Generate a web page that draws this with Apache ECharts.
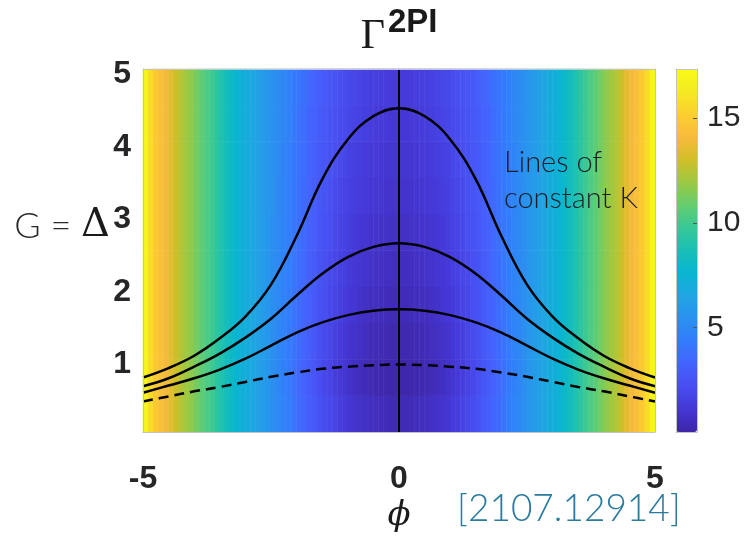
<!DOCTYPE html>
<html>
<head>
<meta charset="utf-8">
<script src="https://cdn.jsdelivr.net/npm/echarts@6/dist/echarts.min.js"></script>
<style>
  html, body { margin: 0; padding: 0; background: #ffffff; }
  #chart { width: 748px; height: 538px; }
</style>
</head>
<body>
<div id="chart"></div>
<script>
// Cell centres of the Gamma^2PI map: phi (columns) and Delta (rows)
const phiCells = [
  '-4.95','-4.85','-4.75','-4.65','-4.55','-4.45','-4.35','-4.25','-4.15','-4.05',
  '-3.95','-3.85','-3.75','-3.65','-3.55','-3.45','-3.35','-3.25','-3.15','-3.05',
  '-2.95','-2.85','-2.75','-2.65','-2.55','-2.45','-2.35','-2.25','-2.15','-2.05',
  '-1.95','-1.85','-1.75','-1.65','-1.55','-1.45','-1.35','-1.25','-1.15','-1.05',
  '-0.95','-0.85','-0.75','-0.65','-0.55','-0.45','-0.35','-0.25','-0.15','-0.05',
  '0.05','0.15','0.25','0.35','0.45','0.55','0.65','0.75','0.85','0.95',
  '1.05','1.15','1.25','1.35','1.45','1.55','1.65','1.75','1.85','1.95',
  '2.05','2.15','2.25','2.35','2.45','2.55','2.65','2.75','2.85','2.95',
  '3.05','3.15','3.25','3.35','3.45','3.55','3.65','3.75','3.85','3.95',
  '4.05','4.15','4.25','4.35','4.45','4.55','4.65','4.75','4.85','4.95'];
const deltaCells = ['0.32','0.82','1.32','1.82','2.32','2.82','3.32','3.82','4.32','4.82'];

// Gamma^2PI for |phi| > 2.5, the same at every Delta
const gammaOuterLeft  = [16.9,15.7,14.9,14.4,14.0,13.5,12.9,12.4,12.0,11.6,11.2,10.7,10.3,9.9,9.4,8.9,8.4,7.9,7.5,7.2,6.9,6.6,6.3,6.0,5.7];
const gammaOuterRight = [5.7,6.0,6.3,6.6,6.9,7.2,7.5,7.9,8.4,8.9,9.4,9.9,10.3,10.7,11.2,11.6,12.0,12.4,12.9,13.5,14.0,14.4,14.9,15.7,16.9];

// Gamma^2PI for |phi| < 2.5, one row per Delta cell (bottom to top)
const gammaD032 = [5.3,5.0,4.7,4.4,4.0,3.6,3.4,3.0,2.8,2.4,2.1,1.9,1.7,1.4,1.3,1.0,0.9,0.8,0.7,0.6,0.5,0.45,0.4,0.35,0.35,
                   0.35,0.35,0.4,0.45,0.5,0.6,0.7,0.8,0.9,1.0,1.3,1.4,1.7,1.9,2.1,2.4,2.8,3.0,3.4,3.6,4.0,4.4,4.7,5.0,5.3];
const gammaD082 = [5.3,4.9,4.6,4.3,3.9,3.5,3.2,2.9,2.6,2.2,1.9,1.7,1.4,1.2,1.0,0.8,0.65,0.5,0.4,0.3,0.2,0.15,0.1,0.05,0.05,
                   0.05,0.05,0.1,0.15,0.2,0.3,0.4,0.5,0.65,0.8,1.0,1.2,1.4,1.7,1.9,2.2,2.6,2.9,3.2,3.5,3.9,4.3,4.6,4.9,5.3];
const gammaD132 = [5.3,4.9,4.7,4.3,4.0,3.6,3.3,3.0,2.7,2.3,2.0,1.8,1.5,1.3,1.1,0.9,0.8,0.7,0.55,0.4,0.35,0.3,0.25,0.2,0.2,
                   0.2,0.2,0.25,0.3,0.35,0.4,0.55,0.7,0.8,0.9,1.1,1.3,1.5,1.8,2.0,2.3,2.7,3.0,3.3,3.6,4.0,4.3,4.7,4.9,5.3];
const gammaD182 = [5.3,5.0,4.7,4.4,4.0,3.7,3.4,3.1,2.8,2.4,2.2,1.9,1.7,1.5,1.3,1.1,1.0,0.8,0.7,0.6,0.55,0.5,0.45,0.4,0.4,
                   0.4,0.4,0.45,0.5,0.55,0.6,0.7,0.8,1.0,1.1,1.3,1.5,1.7,1.9,2.2,2.4,2.8,3.1,3.4,3.7,4.0,4.4,4.7,5.0,5.3];
const gammaD232 = [5.3,5.0,4.7,4.4,4.1,3.7,3.5,3.1,2.9,2.5,2.3,2.0,1.8,1.6,1.5,1.2,1.1,1.0,0.9,0.8,0.7,0.7,0.6,0.6,0.55,
                   0.55,0.6,0.6,0.7,0.7,0.8,0.9,1.0,1.1,1.2,1.5,1.6,1.8,2.0,2.3,2.5,2.9,3.1,3.5,3.7,4.1,4.4,4.7,5.0,5.3];
const gammaD282 = [5.3,5.0,4.8,4.4,4.1,3.8,3.5,3.2,3.0,2.6,2.4,2.2,1.9,1.7,1.6,1.4,1.2,1.1,1.0,0.9,0.9,0.8,0.8,0.7,0.7,
                   0.7,0.7,0.8,0.8,0.9,0.9,1.0,1.1,1.2,1.4,1.6,1.7,1.9,2.2,2.4,2.6,3.0,3.2,3.5,3.8,4.1,4.4,4.8,5.0,5.3];
const gammaD332 = [5.4,5.0,4.8,4.5,4.2,3.8,3.6,3.3,3.0,2.7,2.5,2.3,2.0,1.8,1.7,1.5,1.4,1.3,1.2,1.1,1.0,1.0,0.9,0.9,0.9,
                   0.9,0.9,0.9,1.0,1.0,1.1,1.2,1.3,1.4,1.5,1.7,1.8,2.0,2.3,2.5,2.7,3.0,3.3,3.6,3.8,4.2,4.5,4.8,5.0,5.4];
const gammaD382 = [5.4,5.1,4.8,4.5,4.2,3.9,3.7,3.4,3.1,2.8,2.6,2.4,2.2,2.0,1.8,1.6,1.5,1.4,1.3,1.2,1.2,1.1,1.0,1.0,1.0,
                   1.0,1.0,1.0,1.1,1.2,1.2,1.3,1.4,1.5,1.6,1.8,2.0,2.2,2.4,2.6,2.8,3.1,3.4,3.7,3.9,4.2,4.5,4.8,5.1,5.4];
const gammaD432 = [5.4,5.1,4.9,4.6,4.3,3.9,3.7,3.4,3.2,2.9,2.7,2.5,2.3,2.1,2.0,1.8,1.7,1.6,1.5,1.4,1.3,1.2,1.2,1.1,1.1,
                   1.1,1.1,1.2,1.2,1.3,1.4,1.5,1.6,1.7,1.8,2.0,2.1,2.3,2.5,2.7,2.9,3.2,3.4,3.7,3.9,4.3,4.6,4.9,5.1,5.4];
const gammaD482 = [5.4,5.1,4.9,4.6,4.3,4.0,3.8,3.5,3.3,3.0,2.8,2.6,2.4,2.2,2.1,1.9,1.8,1.7,1.6,1.5,1.45,1.4,1.35,1.3,1.3,
                   1.3,1.3,1.35,1.4,1.45,1.5,1.6,1.7,1.8,1.9,2.1,2.2,2.4,2.6,2.8,3.0,3.3,3.5,3.8,4.0,4.3,4.6,4.9,5.1,5.4];

// Lines of constant K (solid) and the dashed G(phi) curve
const phiK   = [-5, -4.5, -4, -3.5, -3, -2.5, -2, -1.5, -1, -0.5, 0, 0.5, 1, 1.5, 2, 2.5, 3, 3.5, 4, 4.5, 5];
const kLine1 = [0.82, 0.95, 1.12, 1.36, 1.66, 2.10, 2.77, 3.55, 4.10, 4.42, 4.53, 4.42, 4.10, 3.55, 2.77, 2.10, 1.66, 1.36, 1.12, 0.95, 0.82];
const kLine2 = [0.70, 0.81, 0.97, 1.15, 1.37, 1.63, 1.95, 2.25, 2.48, 2.62, 2.67, 2.62, 2.48, 2.25, 1.95, 1.63, 1.37, 1.15, 0.97, 0.81, 0.70];
const kLine3 = [0.61, 0.71, 0.81, 0.93, 1.08, 1.26, 1.44, 1.58, 1.68, 1.74, 1.76, 1.74, 1.68, 1.58, 1.44, 1.26, 1.08, 0.93, 0.81, 0.71, 0.61];
const gLine  = [0.49, 0.56, 0.63, 0.69, 0.76, 0.83, 0.89, 0.94, 0.97, 0.99, 1.00, 0.99, 0.97, 0.94, 0.89, 0.83, 0.76, 0.69, 0.63, 0.56, 0.49];

// Colour scale range
const gammaMin = 0;
const gammaMax = 17.35;

// parula colormap stops
const parula = ['#3E26A8','#4537D5','#484DF0','#4563FD','#327CFC','#2B91EF','#20A5E3','#08B5D0',
                '#19BFB6','#37C897','#64CD6F','#9DC943','#D1BF27','#F8BA3D','#FCCF30','#F5E924','#F9FB15'];

const gammaInner = [gammaD032, gammaD082, gammaD132, gammaD182, gammaD232,
                    gammaD282, gammaD332, gammaD382, gammaD432, gammaD482];
const heatData = [];
gammaInner.forEach((inner, r) => {
  const row = gammaOuterLeft.concat(inner, gammaOuterRight);
  row.forEach((v, c) => heatData.push([c, r, v]));
});
const pairs = ys => phiK.map((x, i) => [x, ys[i]]);

const frame = '#c4c4c4';
const tickFont = { fontSize: 32, color: '#262626', fontFamily: 'Liberation Sans', fontWeight: 'bold' };
const plotBox = { left: 143, top: 69, width: 512, height: 363 };
const barBox = { left: 676, top: 69, width: 21, height: 363 };

function frameAxis(extra) {
  return Object.assign({
    z: 10,
    axisLine: { show: true, onZero: false, lineStyle: { color: frame, width: 1 } },
    axisTick: { show: false }, axisLabel: { show: false }, splitLine: { show: false }
  }, extra);
}

function label(x, y, style) {
  return { type: 'text', x: x, y: y, z: 100, zlevel: 1, silent: true,
    style: Object.assign({ verticalAlign: 'middle' }, style) };
}

const chart = echarts.init(document.getElementById('chart'), null, { renderer: 'canvas' });
chart.setOption({
  animation: false,
  backgroundColor: '#ffffff',
  grid: [
    Object.assign({}, plotBox),
    Object.assign({}, plotBox),
    Object.assign({}, barBox)
  ],
  xAxis: [
    { gridIndex: 0, type: 'category', data: phiCells, show: false },
    frameAxis({ gridIndex: 1, type: 'value', min: -5, max: 5, interval: 5, position: 'bottom',
      axisLabel: Object.assign({ show: true, margin: 31 }, tickFont) }),
    frameAxis({ gridIndex: 1, type: 'value', min: -5, max: 5, position: 'top' }),
    frameAxis({ gridIndex: 2, type: 'value', min: 0, max: 1, position: 'bottom' }),
    frameAxis({ gridIndex: 2, type: 'value', min: 0, max: 1, position: 'top' })
  ],
  yAxis: [
    { gridIndex: 0, type: 'category', data: deltaCells, show: false },
    frameAxis({ gridIndex: 1, type: 'value', min: 0.07, max: 5.07, position: 'left',
      axisLabel: Object.assign({ show: true, margin: 12, showMinLabel: false, showMaxLabel: false,
        formatter: v => (Number.isInteger(v) ? String(v) : '') }, tickFont) }),
    frameAxis({ gridIndex: 1, type: 'value', min: 0.07, max: 5.07, position: 'right' }),
    frameAxis({ gridIndex: 2, type: 'value', min: gammaMin, max: gammaMax, interval: 5, position: 'right',
      axisTick: { show: true, inside: true, length: 4, lineStyle: { color: '#555555', width: 1 } },
      axisLabel: { show: true, margin: 10, fontSize: 30, color: '#262626', fontFamily: 'Liberation Sans',
        showMinLabel: false, showMaxLabel: false,
        formatter: v => (Number.isInteger(v) ? String(v) : '') } }),
    frameAxis({ gridIndex: 2, type: 'value', min: gammaMin, max: gammaMax, position: 'left' })
  ],
  visualMap: {
    type: 'continuous', seriesIndex: 0, min: gammaMin, max: gammaMax,
    calculable: false, hoverLink: false, realtime: false,
    left: barBox.left, top: barBox.top, itemWidth: barBox.width, itemHeight: barBox.height,
    padding: 0, orient: 'vertical',
    inRange: { color: parula }
  },
  series: [
    { type: 'heatmap', xAxisIndex: 0, yAxisIndex: 0, data: heatData,
      itemStyle: { borderWidth: 0 }, emphasis: { disabled: true }, progressive: 0 },
    { type: 'line', xAxisIndex: 1, yAxisIndex: 1, data: pairs(kLine1), showSymbol: false, symbol: 'none',
      smooth: 0.4, lineStyle: { color: '#000000', width: 2.5 }, silent: true,
      markLine: { symbol: ['none', 'none'], silent: true, label: { show: false },
        lineStyle: { color: '#000000', width: 2, type: 'solid' }, data: [{ xAxis: 0 }] } },
    { type: 'line', xAxisIndex: 1, yAxisIndex: 1, data: pairs(kLine2), showSymbol: false, symbol: 'none',
      smooth: 0.4, lineStyle: { color: '#000000', width: 2.5 }, silent: true },
    { type: 'line', xAxisIndex: 1, yAxisIndex: 1, data: pairs(kLine3), showSymbol: false, symbol: 'none',
      smooth: 0.4, lineStyle: { color: '#000000', width: 2.5 }, silent: true },
    { type: 'line', xAxisIndex: 1, yAxisIndex: 1, data: pairs(gLine), showSymbol: false, symbol: 'none',
      smooth: 0.4, lineStyle: { color: '#000000', width: 2.5, type: [10, 6] }, silent: true }
  ],
  graphic: [
    label(373, 37, { text: 'Γ', align: 'center', fill: '#1a1a1a', fontSize: 42, fontFamily: 'Liberation Serif' }),
    label(388, 23, { text: '2PI', align: 'left', fill: '#1a1a1a', fontSize: 33, fontWeight: 'bold',
      fontFamily: 'Liberation Sans' }),
    label(110, 226, { text: '{a|G = }{b|Δ}', align: 'right',
      rich: {
        a: { fontSize: 36, fontWeight: 300, fontFamily: 'Lato', fill: '#2a2a2a' },
        b: { fontSize: 40, fontFamily: 'DejaVu Serif', fill: '#1a1a1a' }
      } }),
    label(504, 163, { text: 'Lines of', align: 'left', fill: '#1c1c28', fontSize: 29, fontWeight: 300,
      fontFamily: 'Lato' }),
    label(504, 199, { text: 'constant K', align: 'left', fill: '#1c1c28', fontSize: 29, fontWeight: 300,
      fontFamily: 'Lato' }),
    label(399, 516, { text: 'ϕ', align: 'center', fill: '#1a1a1a', fontSize: 34, fontStyle: 'italic',
      fontFamily: 'DejaVu Serif' }),
    label(457, 509, { text: '[2107.12914]', align: 'left', fill: '#2b7a9e', fontSize: 37, fontWeight: 300,
      fontFamily: 'Lato' })
  ]
});
</script>
</body>
</html>
